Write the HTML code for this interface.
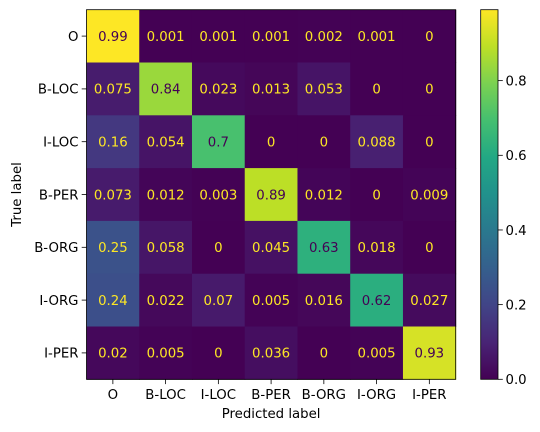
<!DOCTYPE html>
<html><head><meta charset="utf-8"><style>
body{margin:0;background:#fff;}
svg{display:block;font-family:"DejaVu Sans","Liberation Sans",sans-serif;}
</style></head><body>
<svg id="chart" width="540" height="432" viewBox="0 0 540 432" xmlns="http://www.w3.org/2000/svg">
<defs><linearGradient id="vir" x1="0" y1="1" x2="0" y2="0">
<stop offset="0" stop-color="#440154"/><stop offset="0.1" stop-color="#482475"/><stop offset="0.2" stop-color="#414487"/><stop offset="0.3" stop-color="#355f8d"/><stop offset="0.4" stop-color="#2a788e"/><stop offset="0.5" stop-color="#21918c"/><stop offset="0.6" stop-color="#22a884"/><stop offset="0.7" stop-color="#44bf70"/><stop offset="0.8" stop-color="#7ad151"/><stop offset="0.9" stop-color="#bddf26"/><stop offset="1" stop-color="#fde725"/>
</linearGradient></defs>
<g id="cells"></g>
<g id="axes"></g>
</svg>
<script>
const labels = ["O","B-LOC","I-LOC","B-PER","B-ORG","I-ORG","I-PER"];
const row0 = [0.99,0.001,0.001,0.001,0.002,0.001,0];
const row1 = [0.075,0.84,0.023,0.013,0.053,0,0];
const row2 = [0.16,0.054,0.7,0,0,0.088,0];
const row3 = [0.073,0.012,0.003,0.89,0.012,0,0.009];
const row4 = [0.25,0.058,0,0.045,0.63,0.018,0];
const row5 = [0.24,0.022,0.07,0.005,0.016,0.62,0.027];
const row6 = [0.02,0.005,0,0.036,0,0.005,0.93];
const matrix = [row0,row1,row2,row3,row4,row5,row6];
const cbTicks = [0.0,0.2,0.4,0.6,0.8];

const NS="http://www.w3.org/2000/svg";
const FS=13.3;
const L=86.5,R=455.7,T=9.7,B=379.3;
const vmin=0, vmax=Math.max(...matrix.flat());
const cw=(R-L)/labels.length, ch=(B-T)/labels.length;
const xPos=i=>L+i*cw, yPos=i=>T+i*ch;
const stops=[[68,1,84],[72,36,117],[65,68,135],[53,95,141],[42,120,142],[33,145,140],[34,168,132],[68,191,112],[122,209,81],[189,223,38],[253,231,37]];
function viridis(v){let t=(v-vmin)/(vmax-vmin);t=Math.max(0,Math.min(1,t))*10;const i=Math.min(9,Math.floor(t)),f=t-i;const a=stops[i],b=stops[i+1];return `rgb(${a.map((c,k)=>Math.round(c+(b[k]-c)*f)).join(',')})`;}
function mk(tag,attrs,parent,text){const e=document.createElementNS(NS,tag);for(const k in attrs)e.setAttribute(k,attrs[k]);if(text!==undefined)e.textContent=text;parent.appendChild(e);return e;}
const cells=document.getElementById('cells'), axes=document.getElementById('axes');
matrix.forEach((row,r)=>row.forEach((v,c)=>{
 const rect=mk('rect',{x:xPos(c),y:yPos(r),width:cw+0.5,height:ch+0.5,fill:viridis(v)},cells);
 
 
 const t=mk('text',{x:xPos(c)+cw/2,y:yPos(r)+ch/2+4.8,'text-anchor':'middle','font-size':FS,fill:(v-vmin)/(vmax-vmin)<0.5?'#fde725':'#440154'},cells,String(v));
 
 
}));
const frame=mk('rect',{x:L,y:T,width:R-L,height:B-T,fill:'none',stroke:'#000','stroke-width':0.8},axes);


labels.forEach((lab,i)=>{
 const cx=xPos(i)+cw/2, cy=yPos(i)+ch/2;
 mk('line',{x1:cx,x2:cx,y1:B,y2:B+4.8,stroke:'#000','stroke-width':0.8},axes);
 const xt=mk('text',{x:cx,y:B+19.5,'text-anchor':'middle','font-size':FS,fill:'#000'},axes,lab);
 
 
 mk('line',{x1:L-4.8,x2:L,y1:cy,y2:cy,stroke:'#000','stroke-width':0.8},axes);
 const yt=mk('text',{x:L-8,y:cy+4.8,'text-anchor':'end','font-size':FS,fill:'#000'},axes,lab);
 
 
});
const xl=mk('text',{x:(L+R)/2,y:418,'text-anchor':'middle','font-size':FS,fill:'#000'},axes,'Predicted label');


const yl=mk('text',{x:0,y:0,'text-anchor':'middle','font-size':FS,fill:'#000',transform:`translate(21,${(T+B)/2}) rotate(-90)`},axes,'True label');


const CL=480.7,CR=498,CT=9.7,CB=379.3;
const cb=mk('rect',{x:CL,y:CT,width:CR-CL,height:CB-CT,fill:'url(#vir)',stroke:'#000','stroke-width':0.8},axes);


const cy=v=>CB-(v-vmin)/(vmax-vmin)*(CB-CT);
cbTicks.forEach(v=>{
 mk('line',{x1:CR,x2:CR+4.8,y1:cy(v),y2:cy(v),stroke:'#000','stroke-width':0.8},axes);
 const t=mk('text',{x:CR+7.5,y:cy(v)+4.8,'font-size':FS,fill:'#000'},axes,v.toFixed(1));
 
 
});
</script>
</body></html>
